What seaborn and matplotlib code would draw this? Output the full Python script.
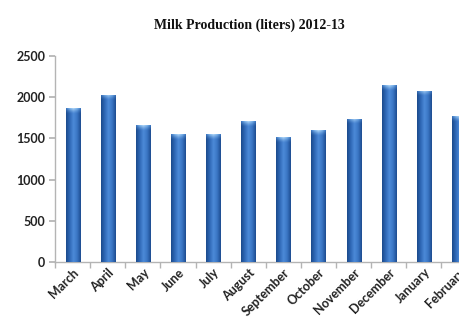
import numpy as np
import pandas as pd
import matplotlib
matplotlib.use("Agg")
import matplotlib.pyplot as plt
from matplotlib.colors import LinearSegmentedColormap
import seaborn as sns

months = ["March", "April", "May", "June", "July", "August", "September",
          "October", "November", "December", "January", "February"]
liters = [1865, 2030, 1660, 1550, 1550, 1710, 1520, 1600, 1740, 2150, 2080, 1775]
y_ticks = [0, 500, 1000, 1500, 2000, 2500]

df = pd.DataFrame({"month": months, "liters": liters})

sns.set_theme(style="white")
plt.rcParams["font.family"] = ["Lato", "DejaVu Sans"]

fig = plt.figure(figsize=(4.59, 3.35), dpi=100)
ax = fig.add_axes([55 / 459, 1 - 262 / 335, (459 - 55) / 459, 206 / 335])

sns.barplot(data=df, x="month", y="liters", color="#3a76c6", width=0.4,
            saturation=1, ax=ax, zorder=2)

# cylinder-like shading: dark edges, lighter middle, pale rounded cap on top
side = LinearSegmentedColormap.from_list(
    "side", ["#1b4a8c", "#2f68b6", "#4c8ad8", "#3a76c4", "#1d4c90"])
cap = LinearSegmentedColormap.from_list(
    "cap", ["#3d78c4", "#86bcf0", "#b8dcf9", "#86bcf0", "#3d78c4"])
grad = np.linspace(0, 1, 64)[None, :]
cap_rgba = cap(np.tile(np.linspace(0, 1, 64), (32, 1)))
fade = np.linspace(1, 0, 32) ** 1.5
cap_rgba[..., 3] = fade[:, None]
for patch in ax.patches:
    x0, y0 = patch.get_x(), patch.get_y()
    w, h = patch.get_width(), patch.get_height()
    im = ax.imshow(grad, cmap=side, aspect="auto",
                   extent=[x0, x0 + w, y0, y0 + h], zorder=3)
    im.set_clip_path(patch)
    cap_h = 70
    im2 = ax.imshow(cap_rgba, aspect="auto", origin="upper",
                    extent=[x0, x0 + w, y0 + h - cap_h, y0 + h], zorder=4)
    im2.set_clip_path(patch)

ax.set_yticks(y_ticks)
ax.set_xticks(np.arange(-0.5, len(months), 1.0), minor=True)
ax.set_xlim(-0.5, 11.0)
ax.set_ylim(0, 2500)
ax.set_xlabel("")
ax.set_ylabel("")

for s in ["top", "right"]:
    ax.spines[s].set_visible(False)
for s in ["left", "bottom"]:
    ax.spines[s].set_color("#b4b4b4")
    ax.spines[s].set_linewidth(1.0)

ax.tick_params(axis="x", which="major", length=0, pad=3)
ax.tick_params(axis="x", which="minor", length=4, color="#b4b4b4",
               direction="out", bottom=True)
ax.tick_params(axis="y", length=4, color="#b4b4b4", direction="out",
               left=True, pad=3)

for lab in ax.get_xticklabels():
    lab.set_rotation(45)
    lab.set_ha("right")
    lab.set_va("top")
    lab.set_rotation_mode("anchor")
    lab.set_fontsize(9)
    lab.set_fontweight("bold")
    lab.set_color("#222222")
for lab in ax.get_yticklabels():
    lab.set_fontsize(9)
    lab.set_fontweight("bold")
    lab.set_color("#222222")

fig.text(0.543, 1 - 25 / 335, "Milk Production (liters) 2012-13",
         ha="center", va="center", fontsize=10, fontweight="bold",
         family=["Liberation Serif", "DejaVu Serif"], color="#111111")

fig.savefig("out.png", dpi=100)
